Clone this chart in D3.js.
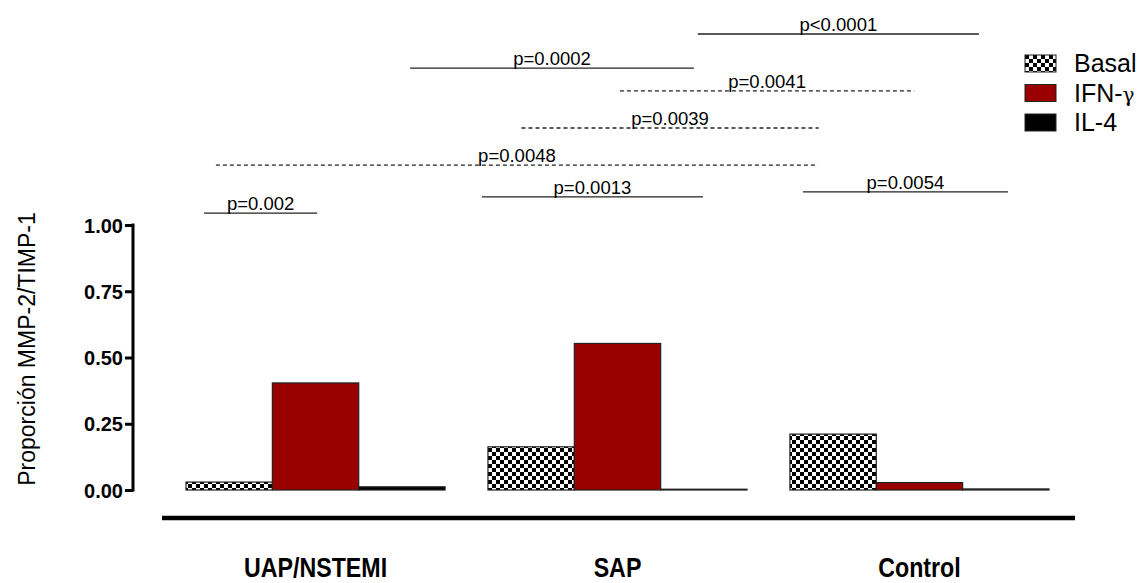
<!DOCTYPE html>
<html>
<head>
<meta charset="utf-8">
<script src="https://cdn.jsdelivr.net/npm/d3@7"></script>
<style>
  body { margin: 0; background: #fff; }
  svg { display: block; font-family: Arial, "Liberation Sans", sans-serif; }
</style>
</head>
<body>
<svg id="chart" width="1146" height="583"></svg>
<script>
// Groups and treatments
const categories = ["UAP/NSTEMI", "SAP", "Control"];
const series = ["Basal", "IFN-γ", "IL-4"];

// MMP-2/TIMP-1 ratio per group, one array per treatment
const basalValues = [0.03, 0.163, 0.211];
const ifnValues = [0.404, 0.553, 0.028];
const il4Values = [0.012, 0.003, 0.004];

const yTicks = [0, 0.25, 0.5, 0.75, 1.0];

// Pairwise comparisons: label, start and end along the group axis (group units),
// bracket height on the ratio scale, line style
const compLabels = ["p<0.0001", "p=0.0002", "p=0.0041", "p=0.0039", "p=0.0048", "p=0.0013", "p=0.002", "p=0.0054"];
const compStart = [1.695, 0.742, 1.437, 1.111, 0.099, 0.980, 0.060, 2.043];
const compEnd = [2.626, 1.682, 2.412, 2.095, 2.093, 1.712, 0.434, 2.722];
const compHeight = [1.721, 1.592, 1.506, 1.366, 1.226, 1.106, 1.045, 1.125];
const compDashed = [false, false, true, true, true, false, false, false];

const svg = d3.select("#chart");

const y = d3.scaleLinear().domain([0, 1]).range([490, 225]);
const x = d3.scaleBand().domain(categories).range([186, 1049]).paddingInner(0.142).paddingOuter(0);
const xs = d3.scaleBand().domain(series).range([0, x.bandwidth()]);
// continuous group axis for comparison brackets
const xg = d3.scaleLinear().domain([0, 1]).range([x.range()[0], x.range()[0] + x.step()]);

// checkerboard fill for basal bars
const defs = svg.append("defs");
const pat = defs.append("pattern").attr("id", "checker")
  .attr("patternUnits", "userSpaceOnUse").attr("width", 8).attr("height", 8);
pat.append("rect").attr("width", 8).attr("height", 8).attr("fill", "#fff");
pat.append("rect").attr("width", 4).attr("height", 4).attr("fill", "#000");
pat.append("rect").attr("x", 4).attr("y", 4).attr("width", 4).attr("height", 4).attr("fill", "#000");

const fills = { "Basal": "url(#checker)", "IFN-γ": "#9b0000", "IL-4": "#000" };
const seriesValues = { "Basal": basalValues, "IFN-γ": ifnValues, "IL-4": il4Values };

const rows = [];
categories.forEach((c, i) => series.forEach(s => rows.push({ cat: c, ser: s, v: seriesValues[s][i] })));

svg.append("g").selectAll("rect").data(rows).join("rect")
  .attr("x", d => x(d.cat) + xs(d.ser))
  .attr("y", d => y(d.v))
  .attr("width", xs.bandwidth())
  .attr("height", d => y(0) - y(d.v))
  .attr("fill", d => fills[d.ser])
  .attr("stroke", "#222")
  .attr("stroke-width", 1.2);

// y axis
const yAxis = svg.append("g").attr("transform", "translate(133,0)")
  .call(d3.axisLeft(y).tickValues(yTicks).tickFormat(d3.format(".2f")).tickSize(8).tickSizeOuter(0));
yAxis.select(".domain").attr("stroke", "#000").attr("stroke-width", 3)
  .attr("d", `M0,${y(1) - 1.5}V${y(0) + 1.5}`);
yAxis.selectAll(".tick line").attr("stroke", "#000").attr("stroke-width", 3);
yAxis.selectAll(".tick text").attr("font-size", 20).attr("font-weight", "bold")
  .attr("fill", "#000").attr("x", -10).attr("dy", "0.36em")
  .attr("font-family", "Arial, 'Liberation Sans', sans-serif");

svg.append("text")
  .attr("transform", "translate(35,349) rotate(-90)")
  .attr("text-anchor", "middle")
  .attr("font-size", 23)
  .text("Proporción MMP-2/TIMP-1");

// baseline rule under the groups
svg.append("line").attr("x1", 162).attr("x2", 1075).attr("y1", 518).attr("y2", 518)
  .attr("stroke", "#000").attr("stroke-width", 4.5);

// group labels, slightly condensed
svg.append("g").selectAll("text").data(categories).join("text")
  .attr("transform", d => `translate(${x(d) + x.bandwidth() / 2},577) scale(0.86,1)`)
  .attr("text-anchor", "middle")
  .attr("font-size", 27)
  .attr("font-weight", "bold")
  .text(d => d);

// comparison brackets
const comps = compLabels.map((l, i) => ({ l, a: compStart[i], b: compEnd[i], h: compHeight[i], dashed: compDashed[i] }));
const cg = svg.append("g").selectAll("g").data(comps).join("g");
cg.append("line")
  .attr("x1", d => xg(d.a)).attr("x2", d => xg(d.b))
  .attr("y1", d => y(d.h)).attr("y2", d => y(d.h))
  .attr("stroke", "#222").attr("stroke-width", 1.4)
  .attr("stroke-dasharray", d => d.dashed ? "4,3" : null);
cg.append("text")
  .attr("x", d => (xg(d.a) + xg(d.b)) / 2)
  .attr("y", d => y(d.h) - 3)
  .attr("text-anchor", "middle")
  .attr("font-size", 18.5)
  .text(d => d.l);

// legend
const lg = svg.append("g").selectAll("g").data(series).join("g")
  .attr("transform", (d, i) => `translate(1025,${55 + i * 29.5})`);
lg.append("rect").attr("width", 31).attr("height", 17)
  .attr("fill", d => fills[d]).attr("stroke", "#222").attr("stroke-width", 1);
lg.append("text").attr("x", 49).attr("y", 17).attr("font-size", 25)
  .each(function (d) {
    const t = d3.select(this);
    if (d === "IFN-γ") {
      t.append("tspan").text("IFN-");
      t.append("tspan").attr("font-size", 20).attr("font-family", "'DejaVu Serif', serif").text("γ");
    } else {
      t.text(d);
    }
  });
</script>
</body>
</html>
